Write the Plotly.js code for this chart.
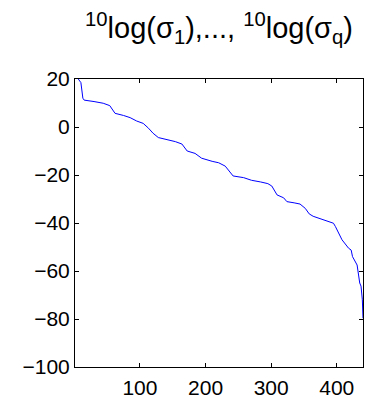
<!DOCTYPE html>
<html>
<head>
<meta charset="utf-8">
<script src="https://cdn.plot.ly/plotly-3.0.1.min.js"></script>
<style>html,body{margin:0;padding:0;background:#fff;}#chart{width:371px;height:399px;}</style>
</head>
<body>
<div id="chart"></div>
<script>
// Singular value index and 10log(sigma) values
var idx = [1, 3, 6, 8, 10, 13, 15, 30, 44, 54, 58, 60, 62, 75, 85, 95, 105, 113, 120, 128, 140, 154, 164, 168, 172, 184, 194, 210, 220, 230, 238, 242, 258, 270, 284, 295, 301, 305, 309, 319, 324, 335, 344, 352, 358, 364, 375, 390, 395, 398, 403, 408, 418, 422, 424, 428, 431, 435, 437, 439, 440];
var vals = [25, 21.5, 20, 19, 18.5, 12, 11.2, 10.6, 9.9, 8.9, 7.4, 6.4, 5.7, 4.8, 3.9, 2.5, 1.5, -0.5, -2.6, -4.4, -5.2, -6.1, -7.1, -8.6, -10, -11, -13, -14.3, -14.9, -16.3, -19, -20.4, -21.1, -22.2, -22.9, -23.6, -24.6, -26.6, -28.3, -29.5, -31.1, -31.6, -32.1, -33.9, -36.2, -37.2, -38.2, -39.5, -40.1, -41.5, -44.5, -47, -50.5, -51.3, -54, -56, -57.5, -65, -66.3, -72, -79.7];
var xTicks = [100, 200, 300, 400];
var yTicks = [-100, -80, -60, -40, -20, 0, 20];

var trace = {
  x: idx, y: vals, type: 'scatter', mode: 'lines',
  line: {color: '#0000ff', width: 1}, hoverinfo: 'skip'
};
var axisCommon = {
  showgrid: false, zeroline: false, showline: true, linecolor: '#000', linewidth: 1,
  mirror: 'allticks', ticks: 'inside', ticklen: 4, tickcolor: '#000', tickwidth: 1,
  tickfont: {family: 'Liberation Sans, Arial, sans-serif', size: 21, color: '#000'}
};
var layout = {
  width: 371, height: 399,
  margin: {l: 75, r: 8, t: 79, b: 32},
  paper_bgcolor: '#fff', plot_bgcolor: '#fff',
  showlegend: false,
  title: {
    text: '<sup>10</sup>log(σ<sub>1</sub>),..., <sup>10</sup>log(σ<sub>q</sub>)',
    font: {family: 'Liberation Sans, Arial, sans-serif', size: 29, color: '#000'},
    x: 0.5, xanchor: 'center', xref: 'paper',
    y: 0.93, yref: 'container', yanchor: 'middle'
  },
  xaxis: Object.assign({}, axisCommon, {range: [1, 440], tickvals: xTicks, ticktext: xTicks.map(String), ticklabelstandoff: 2}),
  yaxis: Object.assign({}, axisCommon, {range: [-100, 20], tickvals: yTicks, ticktext: yTicks.map(function(v){return v < 0 ? '\u2212' + Math.abs(v) : String(v);})})
};
Plotly.newPlot('chart', [trace], layout, {displayModeBar: false, staticPlot: true});
</script>
</body>
</html>
